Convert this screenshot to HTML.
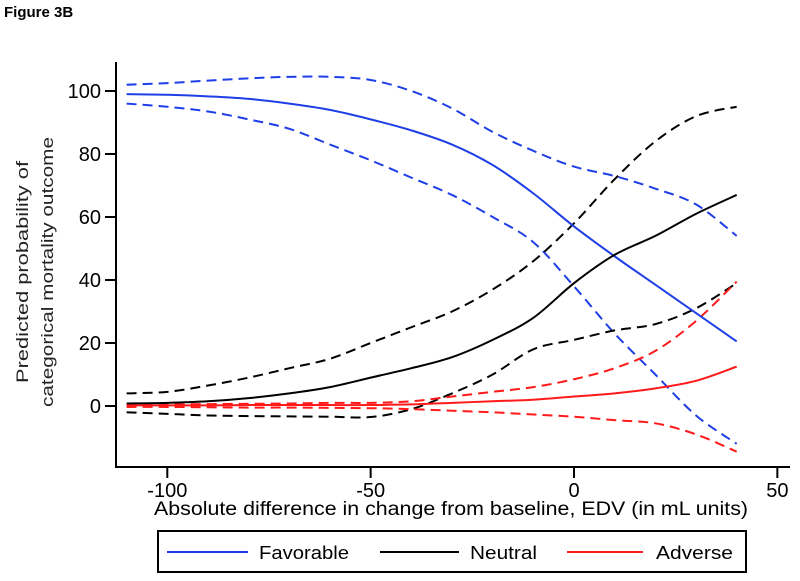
<!DOCTYPE html>
<html><head><meta charset="utf-8"><style>
body{margin:0;background:#fff;width:800px;height:581px;overflow:hidden}
svg{display:block;font-family:"Liberation Sans",sans-serif}
</style></head><body>
<svg id="chart" width="800" height="581" viewBox="0 0 800 581">
<text x="4" y="17" font-size="15" font-weight="bold">Figure 3B</text>
<g id="axes"></g><g id="series"></g>
<g font-size="17" fill="#222">
<text transform="translate(28,272) rotate(-90)" text-anchor="middle" textLength="222" lengthAdjust="spacingAndGlyphs">Predicted probability of</text>
<text transform="translate(53,272) rotate(-90)" text-anchor="middle" textLength="270" lengthAdjust="spacingAndGlyphs">categorical mortality outcome</text>
</g>
<text x="451" y="515" text-anchor="middle" font-size="19" textLength="594" lengthAdjust="spacingAndGlyphs">Absolute difference in change from baseline, EDV (in mL units)</text>
<g>
<rect x="158" y="531" width="588" height="41" fill="none" stroke="#000" stroke-width="2"/>
<g><line x1="167" y1="552" x2="248" y2="552" stroke="#1f3fe6" stroke-width="2"/><text x="259" y="559" font-size="18" textLength="90" lengthAdjust="spacingAndGlyphs">Favorable</text></g>
<g><line x1="380" y1="552" x2="459" y2="552" stroke="#000" stroke-width="2"/><text x="470" y="559" font-size="18" textLength="67" lengthAdjust="spacingAndGlyphs">Neutral</text></g>
<g><line x1="567" y1="552" x2="643" y2="552" stroke="#ff1a1a" stroke-width="2"/><text x="656" y="559" font-size="18" textLength="77" lengthAdjust="spacingAndGlyphs">Adverse</text></g>
</g>
</svg>
<script>
const xVals=[-110,-100,-90,-80,-70,-60,-50,-40,-30,-20,-10,0,10,20,30,40];
const fav=[99,98.8,98.3,97.5,96,94,91,87.5,83,76.5,67.5,57,47.5,38.5,29.5,20.5];
const favUpper=[102,102.5,103.3,104,104.5,104.5,103.5,100,94.5,87,81,76,73,69,64,54];
const favLower=[96,95,93.5,91,88,83,78,72.5,67,60,52,38,23,10,-3,-12];
const neutral=[0.8,1,1.5,2.5,4,6,9,12,15.5,21,28,39,48,54,61,67];
const neutralUpper=[4,4.5,6.5,9,12,15,20,25,30,37,46,58,72,84,92,95];
const neutralLower=[-2,-2.5,-3,-3.2,-3.3,-3.4,-3.5,-1,4,10,18,21,24,26,31,39];
const adverse=[0.2,0.2,0.2,0.3,0.3,0.3,0.3,0.5,1,1.5,2,3,4,5.6,8,12.5];
const adverseUpper=[0.5,0.5,0.6,0.7,0.8,1,1,1.5,3,4.5,6,8.5,12,17.5,27,39.5];
const adverseLower=[-0.3,-0.3,-0.4,-0.5,-0.5,-0.6,-0.7,-1,-1.5,-2,-2.7,-3.4,-4.5,-5.5,-9,-14.5];
const xTicks=[-100,-50,0,50];
const yTicks=[0,20,40,60,80,100];
const NS='http://www.w3.org/2000/svg';
const xs=v=>574+4.067*v;
const ys=v=>406-3.15*v;
function mk(tag,attrs,parent){const e=document.createElementNS(NS,tag);for(const k in attrs)e.setAttribute(k,attrs[k]);parent.appendChild(e);return e;}
const axes=document.getElementById('axes');
const ya=mk('line',{x1:116,y1:62,x2:116,y2:467,stroke:'#000','stroke-width':2},axes);


const xa=mk('line',{x1:115,y1:467,x2:790,y2:467,stroke:'#000','stroke-width':2},axes);


yTicks.forEach(t=>{
  const l=mk('line',{x1:105,y1:ys(t),x2:116,y2:ys(t),stroke:'#000','stroke-width':2},axes);
  
  
  const tx=mk('text',{x:101,y:ys(t)+7,'text-anchor':'end','font-size':20},axes);
  tx.textContent=t;
  
  
});
xTicks.forEach(t=>{
  const l=mk('line',{x1:xs(t),y1:467,x2:xs(t),y2:478,stroke:'#000','stroke-width':2},axes);
  
  
  const tx=mk('text',{x:xs(t),y:497,'text-anchor':'middle','font-size':20},axes);
  tx.textContent=t;
  
  
});
const series=document.getElementById('series');
const defs=[
 ['favorable-upper-ci',favUpper,'#1f3fe6',true],['favorable-lower-ci',favLower,'#1f3fe6',true],
 ['neutral-upper-ci',neutralUpper,'#000',true],['neutral-lower-ci',neutralLower,'#000',true],
 ['adverse-upper-ci',adverseUpper,'#ff1a1a',true],['adverse-lower-ci',adverseLower,'#ff1a1a',true],
 ['favorable-line',fav,'#1f3fe6',false],['neutral-line',neutral,'#000',false],['adverse-line',adverse,'#ff1a1a',false]];
defs.forEach(([name,arr,col,dash])=>{
  const pts=arr.map((v,i)=>[xs(xVals[i]),ys(v)]);
  let d='M'+pts[0][0]+','+pts[0][1];
  for(let i=0;i<pts.length-1;i++){
    const p0=pts[Math.max(0,i-1)],p1=pts[i],p2=pts[i+1],p3=pts[Math.min(pts.length-1,i+2)];
    const c1=[p1[0]+(p2[0]-p0[0])/6,p1[1]+(p2[1]-p0[1])/6];
    const c2=[p2[0]-(p3[0]-p1[0])/6,p2[1]-(p3[1]-p1[1])/6];
    d+=' C'+c1+' '+c2+' '+p2;
  }
  const p=mk('path',{d:d,fill:'none',stroke:col,'stroke-width':2},series);
  if(dash)p.setAttribute('stroke-dasharray','10 6');
  
  
});
</script>
</body></html>
